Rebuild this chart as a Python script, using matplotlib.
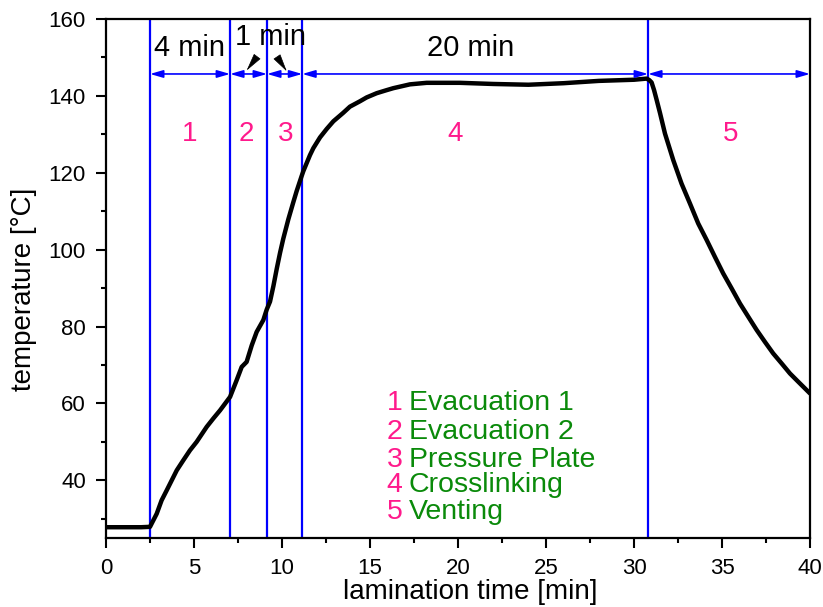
import matplotlib
matplotlib.use("Agg")
import matplotlib.pyplot as plt
from matplotlib.ticker import MultipleLocator

plt.rcParams['font.family'] = ['Liberation Sans', 'DejaVu Sans']

time_min = [0, 1, 2, 2.5, 2.69, 2.88, 3.16, 3.45, 4.02, 4.39, 4.77, 5.15, 5.72, 6.1, 6.48,
            7.05, 7.42, 7.71, 7.99, 8.28, 8.56, 8.94, 9.13, 9.32, 9.51, 9.7, 9.89, 10.07,
            10.36, 10.64, 10.83, 11.12, 11.21, 11.59, 11.78, 12.16, 12.54, 12.92, 13.48,
            13.86, 14.43, 14.81, 15.38, 15.95, 16.32, 16.89, 17.27, 18.22, 20.1, 22, 24,
            26, 28, 30, 30.72, 30.87, 31.0, 31.14, 31.29, 31.48, 31.76, 32.23, 32.7, 33.18,
            33.65, 34.13, 34.6, 35.07, 35.55, 36.02, 36.5, 36.97, 37.44, 37.91, 38.39,
            38.86, 39.34, 40.0]
temperature = [27.8, 27.8, 27.8, 27.9, 29.6, 31.3, 34.8, 37.4, 42.6, 45.2, 47.8, 50.0,
               53.9, 56.1, 58.2, 61.7, 66.0, 69.5, 70.8, 75.1, 78.6, 81.7, 84.4, 86.5,
               90.5, 95.0, 99.2, 102.8, 107.9, 112.3, 115.2, 119.2, 120.4, 124.6, 126.4,
               129.2, 131.4, 133.4, 135.6, 137.2, 138.6, 139.6, 140.7, 141.5, 142.0, 142.6,
               143.0, 143.4, 143.4, 143.1, 142.9, 143.3, 143.9, 144.2, 144.5, 144.1, 143.5,
               141.5, 138.9, 135.5, 130.2, 123.3, 117.2, 112.0, 106.8, 102.5, 98.1, 93.8,
               89.9, 86.0, 82.5, 79.1, 76.0, 73.0, 70.4, 67.8, 65.6, 62.6]

phase_bounds = [2.5, 7.05, 9.15, 11.15, 30.8, 40.0]
phase_labels = ["1", "2", "3", "4", "5"]
phase_label_x = [4.73, 7.99, 10.22, 19.83, 35.5]
duration_labels = ["4 min", "1 min", "20 min"]
duration_x = [4.75, 9.37, 20.7]
duration_y = [152.4, 155.2, 152.4]
legend_names = ["Evacuation 1", "Evacuation 2", "Pressure Plate", "Crosslinking", "Venting"]
legend_y = [60.0, 52.6, 45.4, 38.7, 31.7]

PINK = '#FF1A8C'
GREEN = '#0A8A0A'
BLUE = '#0000FF'

fig = plt.figure(figsize=(8.23, 6.07), dpi=100)
ax = fig.add_axes([0.1288, 0.1137, 0.8554, 0.855])

ax.plot(time_min, temperature, color='black', lw=3.2, solid_joinstyle='round',
        solid_capstyle='round', zorder=3)

for xb in phase_bounds[:-1]:
    ax.axvline(xb, color=BLUE, lw=1.6, zorder=2)

arrow_y = 145.7
for a, b in zip(phase_bounds[:-1], phase_bounds[1:]):
    ax.annotate('', xy=(b, arrow_y), xytext=(a, arrow_y),
                arrowprops=dict(arrowstyle='<|-|>,head_length=0.55,head_width=0.16',
                                color=BLUE, lw=1.2, mutation_scale=14,
                                shrinkA=0, shrinkB=0),
                zorder=4, annotation_clip=False)

for lab, xl in zip(phase_labels, phase_label_x):
    ax.text(xl, 130.0, lab, color=PINK, fontsize=20, ha='center', va='center')

for lab, xl, yl in zip(duration_labels, duration_x, duration_y):
    ax.text(xl, yl, lab, color='black', fontsize=21, ha='center', va='center')

# small black pointer arrowheads from "1 min"
ax.annotate('', xy=(7.99, 146.6), xytext=(8.5, 149.7),
            arrowprops=dict(arrowstyle='-|>,head_length=0.95,head_width=0.22',
                            color='black', lw=0.5, mutation_scale=12,
                            shrinkA=0, shrinkB=0))
ax.annotate('', xy=(10.27, 146.4), xytext=(9.77, 149.8),
            arrowprops=dict(arrowstyle='-|>,head_length=0.95,head_width=0.22',
                            color='black', lw=0.5, mutation_scale=12,
                            shrinkA=0, shrinkB=0))

for i, (name, yl) in enumerate(zip(legend_names, legend_y)):
    ax.text(16.85, yl, str(i + 1), color=PINK, fontsize=20.5, ha='right', va='center')
    ax.text(17.2, yl, name, color=GREEN, fontsize=20.5, ha='left', va='center')

ax.set_xlim(0, 40)
ax.set_ylim(25, 160)
ax.xaxis.set_major_locator(MultipleLocator(5))
ax.xaxis.set_minor_locator(MultipleLocator(2.5))
ax.set_yticks([40, 60, 80, 100, 120, 140, 160])
ax.yaxis.set_minor_locator(MultipleLocator(10))
ax.tick_params(which='major', direction='out', length=7, width=1.5, labelsize=16,
               top=False, right=False, pad=7.5)
ax.tick_params(which='minor', direction='out', length=3.5, width=1.5, top=False, right=False)
for s in ax.spines.values():
    s.set_linewidth(1.6)

fig.text(0.5717, 0.0247, 'lamination time [min]', fontsize=20, ha='center', va='center')
fig.text(0.029, 0.524, 'temperature [°C]', fontsize=20, ha='center', va='center',
         rotation=90)

fig.savefig('out.png', dpi=100)
